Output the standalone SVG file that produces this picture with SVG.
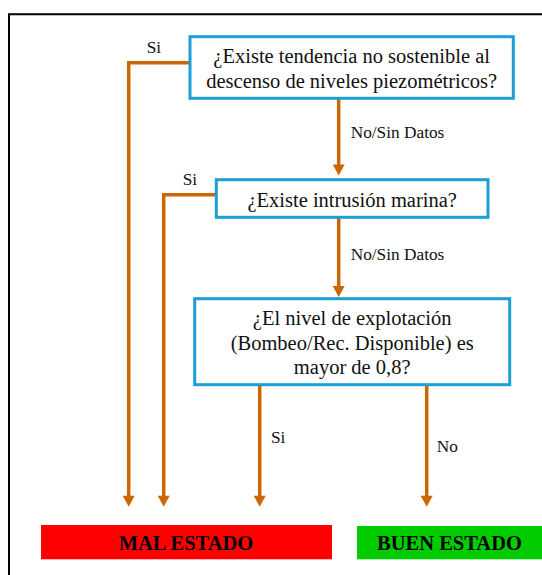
<svg xmlns="http://www.w3.org/2000/svg" width="542" height="575" viewBox="0 0 542 575">
<defs>
<marker id="ah" markerUnits="userSpaceOnUse" markerWidth="12" markerHeight="12" viewBox="0 0 11 12" refX="0.5" refY="6" orient="auto">
<path d="M0,0 L11,6 L0,12 Z" fill="#CC6600"/>
</marker>
<style>
.box{fill:#fff;stroke:#1B9FD6;stroke-width:3}
.t{font-size:20.5px;fill:#111;text-anchor:middle}
.lb{font-size:17.3px;fill:#111}
.res{font-size:20.5px;font-weight:bold;fill:#000;text-anchor:middle}
.c{fill:none;stroke:#CC6600;stroke-width:3.5}
.ca{fill:none;stroke:#CC6600;stroke-width:3.5;marker-end:url(#ah)}
</style>
</defs>
<rect width="542" height="575" fill="#fff"/>
<g id="frame" fill="none" stroke="#000" stroke-width="2">
<path d="M9,575 V14.3 H542"/>
</g>
<g id="connectors" font-family="Liberation Serif, Times New Roman, serif">
<path class="ca" d="M190,62.7 H128.7 V496.3"/>
<path class="ca" d="M216.3,194.7 H163.7 V496.3"/>
<path class="ca" d="M338.7,98.3 V165"/>
<path class="ca" d="M338.7,217.3 V286.5"/>
<path class="ca" d="M259.7,384.7 V496.3"/>
<path class="ca" d="M426.7,384.7 V496.3"/>
<text class="lb" x="146.7" y="53.3">Si</text>
<text class="lb" x="182.7" y="185">Si</text>
<text class="lb" x="350.7" y="138.3">No/Sin Datos</text>
<text class="lb" x="350.7" y="260">No/Sin Datos</text>
<text class="lb" x="271" y="443">Si</text>
<text class="lb" x="436.7" y="452">No</text>
</g>
<g id="q1" font-family="Liberation Serif, Times New Roman, serif">
<rect class="box" x="190" y="36.7" width="323.3" height="61.6"/>
<text class="t" x="351.7" y="63.3">¿Existe tendencia no sostenible al</text>
<text class="t" x="351.7" y="88.3">descenso de niveles piezométricos?</text>
</g>
<g id="q2" font-family="Liberation Serif, Times New Roman, serif">
<rect class="box" x="216.3" y="179.7" width="271.7" height="37.6"/>
<text class="t" x="352.2" y="206.7">¿Existe intrusión marina?</text>
</g>
<g id="q3" font-family="Liberation Serif, Times New Roman, serif">
<rect class="box" x="194.7" y="298.7" width="315" height="86"/>
<text class="t" x="352.2" y="325">¿El nivel de explotación</text>
<text class="t" x="352.2" y="349.5">(Bombeo/Rec. Disponible) es</text>
<text class="t" x="352.2" y="374">mayor de 0,8?</text>
</g>
<g id="mal" font-family="Liberation Serif, Times New Roman, serif">
<rect x="41" y="525" width="291" height="34.3" fill="#FF0000"/>
<text class="res" x="186" y="550">MAL ESTADO</text>
</g>
<g id="buen" font-family="Liberation Serif, Times New Roman, serif">
<rect x="357" y="526" width="185" height="33.3" fill="#00CC00"/>
<text class="res" x="449.5" y="550">BUEN ESTADO</text>
</g>
</svg>
